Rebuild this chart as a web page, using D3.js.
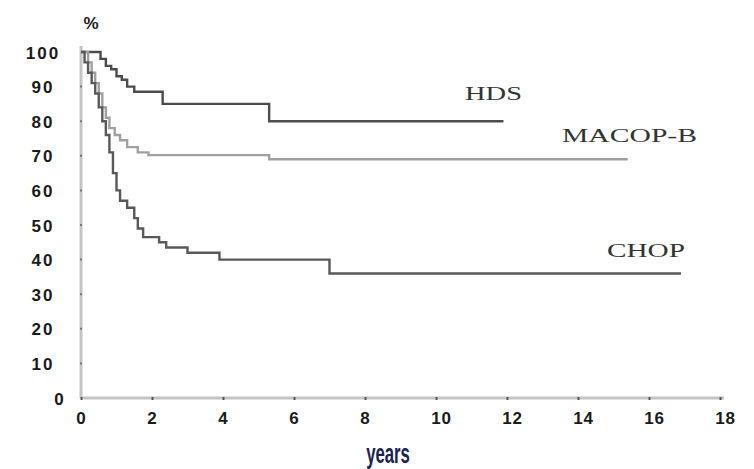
<!DOCTYPE html>
<html>
<head>
<meta charset="utf-8">
<script src="https://cdn.jsdelivr.net/npm/d3@7/dist/d3.min.js"></script>
<style>
  html, body { margin: 0; padding: 0; background: #fff; }
  svg { display: block; }
</style>
</head>
<body>
<svg id="chart" width="754" height="469"></svg>
<script>
// Survival curves (%), step points: time in years and survival at that time
const hdsTimes   = [0, 0.55, 0.7, 0.85, 1.0, 1.15, 1.3, 1.5, 2.3, 5.3];
const hdsValues  = [100, 98, 96, 95, 93, 92, 90, 88.5, 85, 80];
const hdsEnd     = 11.9;

const macopTimes  = [0, 0.2, 0.3, 0.4, 0.5, 0.6, 0.7, 0.8, 0.95, 1.1, 1.3, 1.6, 1.9, 5.3];
const macopValues = [100, 97, 94, 91, 88, 84, 81, 78, 76, 74.5, 72.5, 71, 70.2, 69];
const macopEnd    = 15.4;

const chopTimes  = [0, 0.1, 0.2, 0.3, 0.4, 0.5, 0.6, 0.7, 0.8, 0.9, 1.0, 1.1, 1.3, 1.5, 1.6, 1.75, 2.2, 2.4, 3.0, 3.9, 7.0];
const chopValues = [100, 97, 94, 91, 88, 84, 80, 76, 71, 65, 60, 57, 55, 52, 49, 46.5, 45, 43.5, 42, 40, 36];
const chopEnd    = 16.9;

const seriesNames = ["HDS", "MACOP-B", "CHOP"];
const xTicks = [0, 2, 4, 6, 8, 10, 12, 14, 16, 18];
const yTicks = [0, 10, 20, 30, 40, 50, 60, 70, 80, 90, 100];

const svg = d3.select("#chart");

const x = d3.scaleLinear().domain([0, 18]).range([81, 720]);
const y = d3.scaleLinear().domain([0, 100]).range([398, 52]);

const tickFont = sel => sel
  .attr("fill", "#1a1a1a")
  .style("font-family", "'Liberation Sans', Arial, sans-serif")
  .style("font-weight", "bold")
  .style("font-size", "17px")
  .style("letter-spacing", "1px");

// axis lines
svg.append("line")
  .attr("x1", x(0)).attr("x2", x(18) + 4)
  .attr("y1", y(0)).attr("y2", y(0))
  .attr("stroke", "#c4c4c4").attr("stroke-width", 3);
svg.append("line")
  .attr("x1", x(0)).attr("x2", x(0))
  .attr("y1", y(0)).attr("y2", y(100) - 6)
  .attr("stroke", "#c4c4c4").attr("stroke-width", 3);

// x axis ticks and labels
const xAxis = d3.axisBottom(x).tickValues(xTicks).tickSize(3).tickPadding(12);
const gx = svg.append("g").attr("transform", `translate(0,${y(0) - 1})`).call(xAxis);
gx.select(".domain").remove();
gx.selectAll(".tick line").attr("stroke", "#555").attr("stroke-width", 2);
gx.selectAll(".tick text").call(tickFont).attr("dx", d => d >= 10 ? "0.3em" : 0);

// y axis ticks and labels
const yAxis = d3.axisLeft(y).tickValues(yTicks).tickSize(0).tickPadding(0);
const gy = svg.append("g").attr("transform", `translate(${x(0)},0)`).call(yAxis);
gy.select(".domain").remove();
gy.selectAll(".tick text")
  .call(tickFont)
  .style("letter-spacing", "2px")
  .attr("text-anchor", "middle")
  .attr("x", d => d === 0 ? -21 : -38)
  .attr("dy", "0.36em");
// small marks on the vertical axis
svg.append("g").selectAll("line")
  .data(yTicks.filter(d => d > 0 && d < 100))
  .join("line")
  .attr("x1", x(0) - 1).attr("x2", x(0) + 1)
  .attr("y1", d => y(d)).attr("y2", d => y(d))
  .attr("stroke", "#777").attr("stroke-width", 2);

// unit label
svg.append("text")
  .attr("x", 91).attr("y", 29)
  .attr("text-anchor", "middle")
  .attr("fill", "#1a1a1a")
  .style("font-family", "'Liberation Sans', Arial, sans-serif")
  .style("font-weight", "bold")
  .style("font-size", "17px")
  .text("%");

// x axis title
svg.append("text")
  .attr("transform", "translate(388,463) scale(0.62,1)")
  .attr("text-anchor", "middle")
  .attr("fill", "#1b2452")
  .style("font-family", "'Liberation Sans Narrow', 'Liberation Sans', sans-serif")
  .style("font-weight", "bold")
  .style("font-size", "27px")
  .text("years");

// curves
const line = d3.line().x(d => x(d[0])).y(d => y(d[1])).curve(d3.curveStepAfter);
function pts(times, values, end) {
  const p = times.map((t, i) => [t, values[i]]);
  p.push([end, values[values.length - 1]]);
  return p;
}
const curves = [
  { name: seriesNames[0], data: pts(hdsTimes, hdsValues, hdsEnd), color: "#4c4c4c" },
  { name: seriesNames[1], data: pts(macopTimes, macopValues, macopEnd), color: "#a0a0a0" },
  { name: seriesNames[2], data: pts(chopTimes, chopValues, chopEnd), color: "#595959" }
];
svg.append("g").selectAll("path")
  .data(curves)
  .join("path")
  .attr("d", d => line(d.data))
  .attr("fill", "none")
  .attr("stroke", d => d.color)
  .attr("stroke-width", 2.4);

// curve labels
const labelPos = [
  { x: 465, y: 100, w: 57 },
  { x: 562, y: 142, w: 135 },
  { x: 607, y: 257, w: 78 }
];
svg.append("g").selectAll("text")
  .data(seriesNames)
  .join("text")
  .attr("x", (d, i) => labelPos[i].x)
  .attr("y", (d, i) => labelPos[i].y)
  .attr("textLength", (d, i) => labelPos[i].w)
  .attr("lengthAdjust", "spacingAndGlyphs")
  .attr("fill", "#333")
  .style("font-family", "'Liberation Serif', 'Times New Roman', serif")
  .style("font-size", "19px")
  .text(d => d);
</script>
</body>
</html>
